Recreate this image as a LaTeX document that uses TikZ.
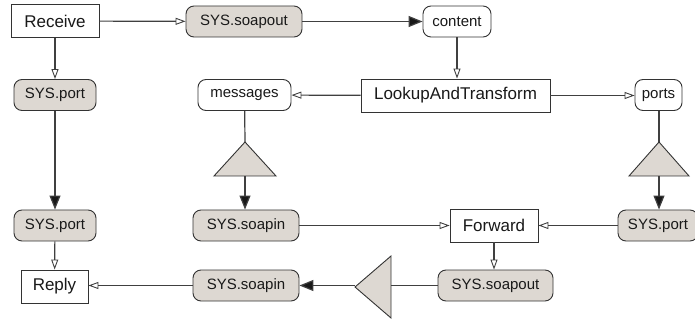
\documentclass[tikz,border=0pt]{standalone}
\usepackage{fontspec}
\setmainfont{Liberation Sans}
\usetikzlibrary{arrows.meta}
\definecolor{boxgray}{HTML}{DDD8D2}
\definecolor{linegray}{HTML}{404040}

\begin{document}
\begin{tikzpicture}[x=1pt,y=-1pt,
    rectbox/.style={draw=black!80,fill=white,line width=0.9pt,inner sep=0pt,
                    text=black!90,font=\fontsize{17}{20}\selectfont},
    roundbox/.style={rectbox,rounded corners=8pt,font=\fontsize{15}{18}\selectfont},
    graybox/.style={roundbox,fill=boxgray},
    tri/.style={draw=black!80,fill=boxgray,line width=0.9pt}]
\useasboundingbox (0,0) rectangle (695,320);

\begin{scope}[every node/.style={rectbox}]
    \node[minimum width=88pt,minimum height=33pt] (receive) at (55,21) {Receive};
    \node[minimum width=189pt,minimum height=33pt] (lookup) at (455.5,95.5) {LookupAndTransform};
    \node[minimum width=88pt,minimum height=33pt] (forward) at (494,225.5) {Forward};
    \node[minimum width=67pt,minimum height=33pt] (reply) at (54.5,286.5) {Reply};
\end{scope}

\begin{scope}[every node/.style={graybox,minimum height=31pt}]
    \node[minimum width=116pt] (soapout1) at (244,21.5) {SYS.soapout};
    \node[minimum width=82pt] (port1) at (55,95) {SYS.port};
    \node[minimum width=82pt] (port2) at (55,225.5) {SYS.port};
    \node[minimum width=106pt] (soapin1) at (246,225.5) {SYS.soapin};
    \node[minimum width=80pt] (port3) at (658,225.5) {SYS.port};
    \node[minimum width=106pt] (soapin2) at (246,285.5) {SYS.soapin};
    \node[minimum width=115pt] (soapout2) at (495.5,285.5) {SYS.soapout};
\end{scope}

\begin{scope}[every node/.style={roundbox,minimum height=31pt}]
    \node[minimum width=68pt] (content) at (457,21.5) {content};
    \node[minimum width=93pt] (messages) at (244.5,95) {messages};
    \node[minimum width=47pt] (ports) at (658.5,95) {ports};
\end{scope}

% triangles
\coordinate (msgtop) at (245,142);
\coordinate (msgbot) at (245,176);
\coordinate (prttop) at (659,142);
\coordinate (prtbot) at (659,176);
\coordinate (outtip) at (355,287);
\coordinate (outbase) at (391,287);
\draw[tri] (msgtop) -- (276,176) -- (214,176) -- cycle;
\draw[tri] (prttop) -- (689,176) -- (629,176) -- cycle;
\draw[tri] (outtip) -- (391,256) -- (391,318) -- cycle;

\begin{scope}[draw=linegray,line width=1.2pt,
              openarr/.style={-{Triangle[open,length=10pt,width=7pt,line width=0.9pt]}},
              fullarr/.style={-{Triangle[length=14pt,width=11pt,fill=black!90]}}]
    \draw[openarr] (receive) -- (soapout1);
    \draw[fullarr] (soapout1) -- (content);
    \draw[openarr] (content) -- (content |- lookup.north);
    \draw[openarr] (lookup) -- (messages);
    \draw[openarr] (lookup.east) -- (ports.west |- lookup.east);
    \draw[openarr] (receive) -- (port1);
    \draw[fullarr] (port1) -- (port2);
    \draw[openarr] (port2) -- (reply);
    \draw (messages) -- (msgtop);
    \draw[fullarr] (msgbot) -- (msgbot |- soapin1.north);
    \draw (ports.south -| prttop) -- (prttop);
    \draw[fullarr] (prtbot) -- (prtbot |- port3.north);
    \draw[openarr] (soapin1) -- (forward);
    \draw[openarr] (port3) -- (forward);
    \draw[openarr] (forward) -- (forward |- soapout2.north);
    \draw (soapout2.west) -- (outbase |- soapout2.west);
    \draw[fullarr] (outtip |- soapin2.east) -- (soapin2.east);
    \draw[openarr] (soapin2) -- (reply.east |- soapin2);
\end{scope}
\end{tikzpicture}
\end{document}
